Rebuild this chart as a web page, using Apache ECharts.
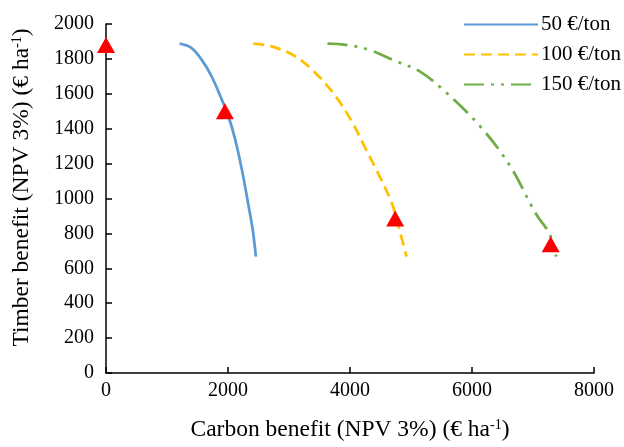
<!DOCTYPE html>
<html><head><meta charset="utf-8">
<script src="https://cdn.jsdelivr.net/npm/echarts@6/dist/echarts.min.js"></script>
<style>html,body{margin:0;padding:0;background:#fff}#c{width:624px;height:447px}</style>
</head><body><div id="c"></div>
<script>
var seriesNames = ['50 €/ton', '100 €/ton', '150 €/ton'];
var carbon50 = [1207, 1399, 1564, 1728, 1893, 2003, 2113, 2222, 2332, 2415, 2458];
var timber50 = [1887, 1863, 1797, 1702, 1571, 1476, 1345, 1175, 968, 798, 667];
var carbon100 = [2415, 2716, 3100, 3429, 3758, 4033, 4252, 4471, 4691, 4828, 4927];
var timber100 = [1887, 1872, 1815, 1721, 1589, 1439, 1288, 1137, 968, 798, 667];
var carbon150 = [3631, 3923, 4307, 4746, 5130, 5514, 6117, 6611, 7050, 7269, 7379];
var timber150 = [1887, 1881, 1853, 1788, 1731, 1627, 1420, 1194, 911, 798, 667];
var markCarbon = [0, 1950, 4740, 7290];
var markTimber = [1880, 1500, 885, 738];

function pairs(xs, ys){ return xs.map(function(x,i){ return [x, ys[i]]; }); }
var font = '"Liberation Serif", "Times New Roman", serif';
var supStyle = {fontFamily: font, fontSize: 14, verticalAlign: 'top', padding: [0,0,10,0], color:'#000'};
var chart = echarts.init(document.getElementById('c'));
chart.setOption({
  animation: false,
  textStyle: {fontFamily: font},
  grid: {left: 106, right: 30, top: 24, bottom: 70},
  legend: {
    left: 458, top: 9, orient: 'vertical', itemGap: 9, itemWidth: 74, itemHeight: 22,
    textStyle: {fontFamily: font, fontSize: 21, color: '#000', padding: [0,0,0,-2]},
    itemStyle: {opacity: 0},
    data: seriesNames
  },
  xAxis: {
    type: 'value', min: 0, max: 8000, interval: 2000,
    name: 'Carbon benefit (NPV 3%) (€ ha{sup|-1})',
    nameLocation: 'middle', nameGap: 45,
    nameTextStyle: {fontFamily: font, fontSize: 23.5, color: '#000', rich: {sup: supStyle}},
    axisLine: {lineStyle: {color: '#000', width: 1.5}},
    axisTick: {inside: true, length: 6, lineStyle: {color: '#000', width: 1.5}},
    axisLabel: {fontFamily: font, fontSize: 20, color: '#000', margin: 8, formatter: function(v){ return String(v); }},
    splitLine: {show: false}
  },
  yAxis: {
    type: 'value', min: 0, max: 2000, interval: 200,
    name: 'Timber benefit (NPV 3%) (€ ha{sup|-1})',
    nameLocation: 'middle', nameGap: 72, nameRotate: 90,
    nameTextStyle: {fontFamily: font, fontSize: 23.5, color: '#000', rich: {sup: supStyle}, padding: [0,0,0,22]},
    axisLine: {show: true, lineStyle: {color: '#000', width: 1.5}},
    axisTick: {show: true, inside: true, length: 6, lineStyle: {color: '#000', width: 1.5}},
    axisLabel: {fontFamily: font, fontSize: 20, color: '#000', margin: 12, formatter: function(v){ return String(v); }},
    splitLine: {show: false}
  },
  series: [
    {name: seriesNames[0], type: 'line', smooth: 0.35, symbol: 'none', data: pairs(carbon50, timber50),
     lineStyle: {color: '#5B9BD5', width: 2.75, type: 'solid'}, itemStyle: {color: '#5B9BD5'}},
    {name: seriesNames[1], type: 'line', smooth: 0.35, symbol: 'none', data: pairs(carbon100, timber100),
     lineStyle: {color: '#FFC000', width: 2.75, type: [11, 6]}, itemStyle: {color: '#FFC000'}},
    {name: seriesNames[2], type: 'line', smooth: 0.35, symbol: 'none', data: pairs(carbon150, timber150),
     lineStyle: {color: '#70AD47', width: 2.75, type: [20, 7, 3, 7, 3, 7]}, itemStyle: {color: '#70AD47'}},
    {name: 'marks', type: 'scatter', symbol: 'triangle', symbolSize: [18, 16], clip: false, z: 5,
     data: pairs(markCarbon, markTimber), itemStyle: {color: '#FF0000', opacity: 1}}
  ]
});
</script></body></html>
